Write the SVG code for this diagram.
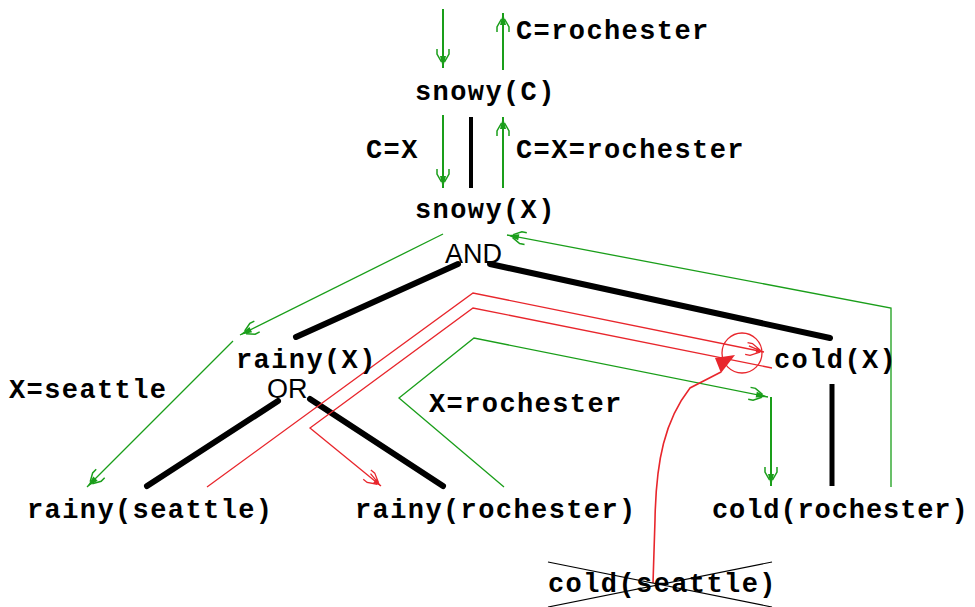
<svg xmlns="http://www.w3.org/2000/svg" width="975" height="607" viewBox="0 0 975 607">
<style>
.t{font-family:"Liberation Mono","Courier New",monospace;font-weight:bold;font-size:27px;letter-spacing:1.4px;fill:#000}
.op{font-family:"Liberation Sans",Arial,sans-serif;font-size:27px;fill:#000}
.tree{stroke:#000;stroke-width:6;stroke-linecap:round;fill:none}
.g{stroke:#1a9e1a;stroke-width:1.3;fill:none}
.gv{stroke:#1a9e1a;stroke-width:2;fill:none}
.r{stroke:#e8262c;stroke-width:1.3;fill:none}
.x{stroke:#000;stroke-width:1.2;fill:none}
</style>
<defs>
<marker id="ag" markerUnits="userSpaceOnUse" markerWidth="30" markerHeight="20" refX="0" refY="0" viewBox="-24 -10 30 20" orient="auto" overflow="visible">
<path d="M0,0 L-12,-3 L-12,3 Z" fill="#1a9e1a"/>
<path d="M-6,-1.5 L-14,-6 L-19,-6 M-6,1.5 L-14,6 L-19,6" stroke="#1a9e1a" stroke-width="1.5" fill="none"/>
</marker>
<marker id="ar" markerUnits="userSpaceOnUse" markerWidth="30" markerHeight="20" refX="0" refY="0" viewBox="-24 -10 30 20" orient="auto" overflow="visible">
<path d="M0,0 L-8,-2.5 L-8,2.5 Z" fill="#e8262c"/>
<path d="M-4,-1 L-13,-6 L-18,-6 M-4,1 L-13,6 L-18,6 M-6,-1 L-16,-3" stroke="#e8262c" stroke-width="1.3" fill="none"/>
</marker>
</defs>
<g id="connectors">
<line class="tree" x1="471" y1="117" x2="471" y2="188" style="stroke-width:4;stroke-linecap:butt"/>
<line class="tree" x1="458" y1="264" x2="296" y2="337"/>
<line class="tree" x1="490" y1="264" x2="830" y2="338"/>
<line class="tree" x1="278" y1="401" x2="147" y2="486"/>
<line class="tree" x1="310" y1="399" x2="443" y2="486"/>
<line class="tree" x1="832" y1="384" x2="832" y2="486" style="stroke-width:5;stroke-linecap:butt"/>
<line class="gv" x1="443" y1="9" x2="443" y2="68" marker-end="url(#ag)"/>
<line class="gv" x1="503" y1="70" x2="503" y2="13" marker-end="url(#ag)"/>
<line class="gv" x1="443" y1="115" x2="443" y2="188" marker-end="url(#ag)"/>
<line class="gv" x1="503" y1="188" x2="503" y2="117" marker-end="url(#ag)"/>
<line class="g" x1="443" y1="234" x2="240" y2="335" marker-end="url(#ag)"/>
<line class="g" x1="233" y1="341" x2="87" y2="487" marker-end="url(#ag)"/>
<polyline class="g" points="891,487 891,308 507,235" marker-end="url(#ag)"/>
<polyline class="g" points="504,487 399,398 474,338 768,397" marker-end="url(#ag)"/>
<line class="gv" x1="771" y1="397" x2="771" y2="486" marker-end="url(#ag)"/>
<polyline class="r" points="207,487 473,293 764,352" marker-end="url(#ar)"/>
<polyline class="r" points="772,368 473,308 310,428 381,486" marker-end="url(#ar)"/>
<circle cx="742" cy="353" r="20" class="r"/>
<path class="r" d="M653,583 L655,520 C656,460 665,420 690,388 L721,372" style="stroke-width:1.6"/>
<polygon points="715,358 735,355 721,373" fill="#e8262c"/>
<line class="x" x1="548" y1="562" x2="772" y2="607"/>
<line class="x" x1="548" y1="607" x2="772" y2="562"/>
</g>
<g id="lbl-c-rochester"><text class="t" x="516" y="39">C=rochester</text></g>
<g id="snowyC"><text class="t" x="415" y="100">snowy(C)</text></g>
<g id="lbl-cx"><text class="t" x="366" y="158">C=X</text></g>
<g id="lbl-cx-rochester"><text class="t" x="516" y="158">C=X=rochester</text></g>
<g id="snowyX"><text class="t" x="415" y="218">snowy(X)</text></g>
<g id="and"><text class="op" x="445" y="263">AND</text></g>
<g id="rainyX"><text class="t" x="236" y="368">rainy(X)</text></g>
<g id="or"><text class="op" x="267" y="398">OR</text></g>
<g id="coldX"><text class="t" x="774" y="368">cold(X)</text></g>
<g id="lbl-x-seattle"><text class="t" x="9" y="398">X=seattle</text></g>
<g id="lbl-x-rochester"><text class="t" x="429" y="412">X=rochester</text></g>
<g id="rainySeattle"><text class="t" x="27" y="518">rainy(seattle)</text></g>
<g id="rainyRochester"><text class="t" x="355" y="518">rainy(rochester)</text></g>
<g id="coldRochester"><text class="t" x="712" y="518" style="letter-spacing:0.9px">cold(rochester)</text></g>
<g id="coldSeattle"><text class="t" x="548" y="592">cold(seattle)</text></g>
</svg>
